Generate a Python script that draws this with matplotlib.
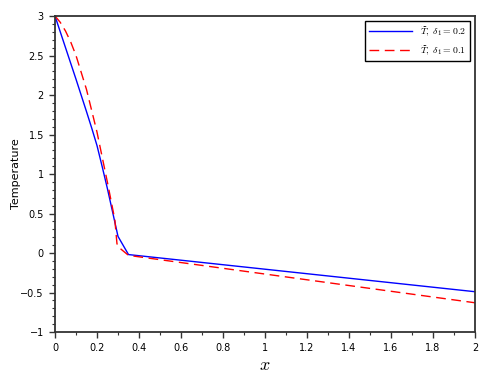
import matplotlib
matplotlib.use("Agg")
import matplotlib.pyplot as plt
from matplotlib.ticker import MultipleLocator

plt.rcParams['mathtext.fontset'] = 'cm'

x_blue = [0.0, 0.05, 0.10, 0.15, 0.175, 0.20, 0.225, 0.25, 0.30, 0.35, 2.0]
T_blue = [3.0, 2.60, 2.20, 1.79, 1.58, 1.36, 1.09, 0.81, 0.21, -0.02, -0.49]
x_red = [0.0, 0.025, 0.05, 0.075, 0.10, 0.15, 0.20, 0.25, 0.285, 0.295, 0.30, 0.35, 2.0]
T_red = [3.0, 2.92, 2.81, 2.67, 2.50, 2.07, 1.53, 0.89, 0.42, 0.12, 0.08, -0.03, -0.63]

labels = [r'$\widetilde{T},\ \delta_1=0.2$', r'$\widetilde{T},\ \delta_1=0.1$']

fig = plt.figure(figsize=(4.88, 3.81), dpi=100)
ax = fig.add_axes([0.1127, 0.1286, 0.8607, 0.8294])
ax.plot(x_blue, T_blue, color='blue', lw=1.0, label=labels[0])
ax.plot(x_red, T_red, color='red', lw=1.0, ls=(0, (7, 4)), label=labels[1])

ax.set_xlim(0, 2)
ax.set_ylim(-1, 3)
ax.xaxis.set_minor_locator(MultipleLocator(0.1))
ax.yaxis.set_minor_locator(MultipleLocator(0.1))
xt = [0, 0.2, 0.4, 0.6, 0.8, 1, 1.2, 1.4, 1.6, 1.8, 2]
ax.set_xticks(xt)
ax.set_xticklabels(['0', '0.2', '0.4', '0.6', '0.8', '1', '1.2', '1.4', '1.6', '1.8', '2'])
yt = [-1, -0.5, 0, 0.5, 1, 1.5, 2, 2.5, 3]
ax.set_yticks(yt)
ax.set_yticklabels(['\u22121', '\u22120.5', '0', '0.5', '1', '1.5', '2', '2.5', '3'])

for s in ax.spines.values():
    s.set_linewidth(1.3)
    s.set_color('#333333')
ax.tick_params(which='major', direction='out', length=4, width=1.0, labelsize=7, colors='#333333', labelcolor='black', pad=4)
ax.tick_params(which='minor', direction='out', length=2, width=0.8, colors='#333333')

ax.set_xlabel(r'$x$', fontsize=13, labelpad=2)
ax.set_ylabel('Temperature', fontsize=8, labelpad=0)
ax.yaxis.set_label_coords(-0.082, 0.5)

leg = ax.legend(loc='upper right', fontsize=7, fancybox=False, edgecolor='black',
                framealpha=1, borderaxespad=0.5, handlelength=4.5)
leg.get_frame().set_linewidth(1.0)

fig.savefig('out.png', dpi=100)
